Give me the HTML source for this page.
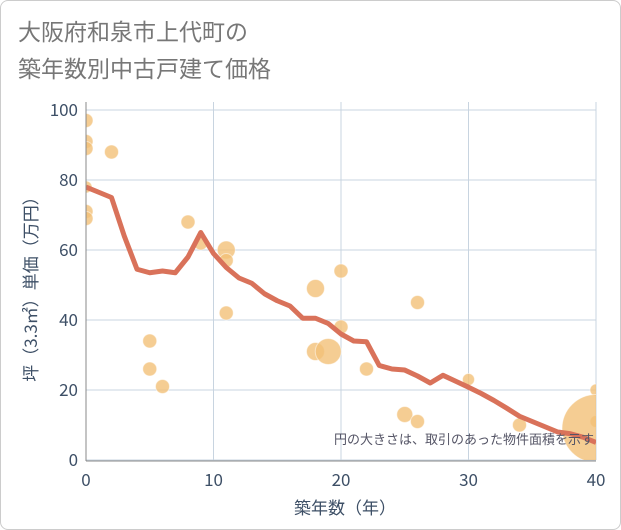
<!DOCTYPE html>
<html><head><meta charset="utf-8"><style>
body{margin:0;background:#fff;font-family:"Noto Sans CJK JP","Liberation Sans",sans-serif}
.card{position:absolute;left:0;top:0;width:619px;height:528px;border:1px solid #ccc;border-radius:8px;background:#fff}
svg text{font-family:"Noto Sans CJK JP","Liberation Sans",sans-serif}
</style></head><body>
<div class="card"></div>
<svg width="621" height="530" style="position:absolute;left:0;top:0">
<text x="18" y="40" font-size="23" fill="#777">大阪府和泉市上代町の</text>
<text x="18" y="77" font-size="23" fill="#777">築年数別中古戸建て価格</text>
<g id="grid"></g>
<defs><clipPath id="cp"><rect x="86" y="102" width="510" height="358"/></clipPath></defs>
<g id="bubbles" clip-path="url(#cp)"></g>
<g id="line" clip-path="url(#cp)"></g>
<line x1="86" y1="102" x2="86" y2="461" stroke="#888"/>
<line x1="86" y1="461" x2="596" y2="461" stroke="#888"/>
<g id="ticks"></g>
<text x="345" y="514" font-size="17" fill="#3d4f66" text-anchor="middle">築年数（年）</text>
<text transform="translate(37,285) rotate(-90)" font-size="17" fill="#3d4f66" text-anchor="middle">坪（3.3㎡）単価（万円）</text>
<text x="594" y="444" font-size="13" fill="#556" text-anchor="end">円の大きさは、取引のあった物件面積を示す</text>
</svg>
<script>
const xTicks=[0,10,20,30,40];
const yTicks=[0,20,40,60,80,100];
const lineYears=[0,1,2,3,4,5,6,7,8,9,10,11,12,13,14,15,16,17,18,19,20,21,22,23,24,25,26,27,28,29,30,31,32,33,34,35,36,37,38,39,40];
const linePrices=[78,76.5,75,64,54.5,53.5,54,53.5,58,65,59,55,52,50.5,47.5,45.5,44,40.5,40.5,39,36,34,33.8,27,26,25.7,24,22,24.2,22.5,20.8,19,17,14.8,12.5,11,9.5,8,7.5,6.5,5];
const bubbleYears=[0,0,0,0,0,0,2,5,5,6,8,9,11,11,11,18,18,19,20,20,22,26,25,26,30,34,40,40,40];
const bubblePrices=[97,91,89,78,71,69,88,34,26,21,68,62,60,57,42,49,31,31,54,38,26,45,13,11,23,10,20,11,9];
const bubbleSizes=[7,7,7,6,7,7,7,7,7,7,7,7,9,7,7,9,9,13,7,7,7,7,8,7,6,7,6,6,34];
const X=v=>86+v*12.75, Y=v=>460-v*3.5;
const NS='http://www.w3.org/2000/svg';
const mk=(t,a,p)=>{const e=document.createElementNS(NS,t);for(const k in a)e.setAttribute(k,a[k]);p.appendChild(e);return e;};
const grid=document.getElementById('grid'),ticks=document.getElementById('ticks');
xTicks.forEach(v=>{const l=mk('line',{x1:X(v),x2:X(v),y1:102,y2:460,stroke:'#c8d4e0'},grid);


const t=mk('text',{x:X(v),y:486,'font-size':17,fill:'#3d4f66','text-anchor':'middle'},ticks);t.textContent=v;

});
yTicks.forEach(v=>{const l=mk('line',{x1:86,x2:596,y1:Y(v),y2:Y(v),stroke:'#c8d4e0'},grid);


const t=mk('text',{x:78,y:Y(v)+6,'font-size':17,fill:'#3d4f66','text-anchor':'end'},ticks);t.textContent=v;

});
const bg=document.getElementById('bubbles');
bubbleYears.forEach((yr,i)=>{const c=mk('circle',{cx:X(yr),cy:Y(bubblePrices[i]),r:bubbleSizes[i],fill:'#f2c078','fill-opacity':0.8,stroke:'#fff','stroke-opacity':0.5},bg);

});
const p=mk('polyline',{points:lineYears.map((yr,i)=>X(yr)+','+Y(linePrices[i])).join(' '),fill:'none',stroke:'#d9725a','stroke-width':5,'stroke-linejoin':'round'},document.getElementById('line'));


</script>
</body></html>
